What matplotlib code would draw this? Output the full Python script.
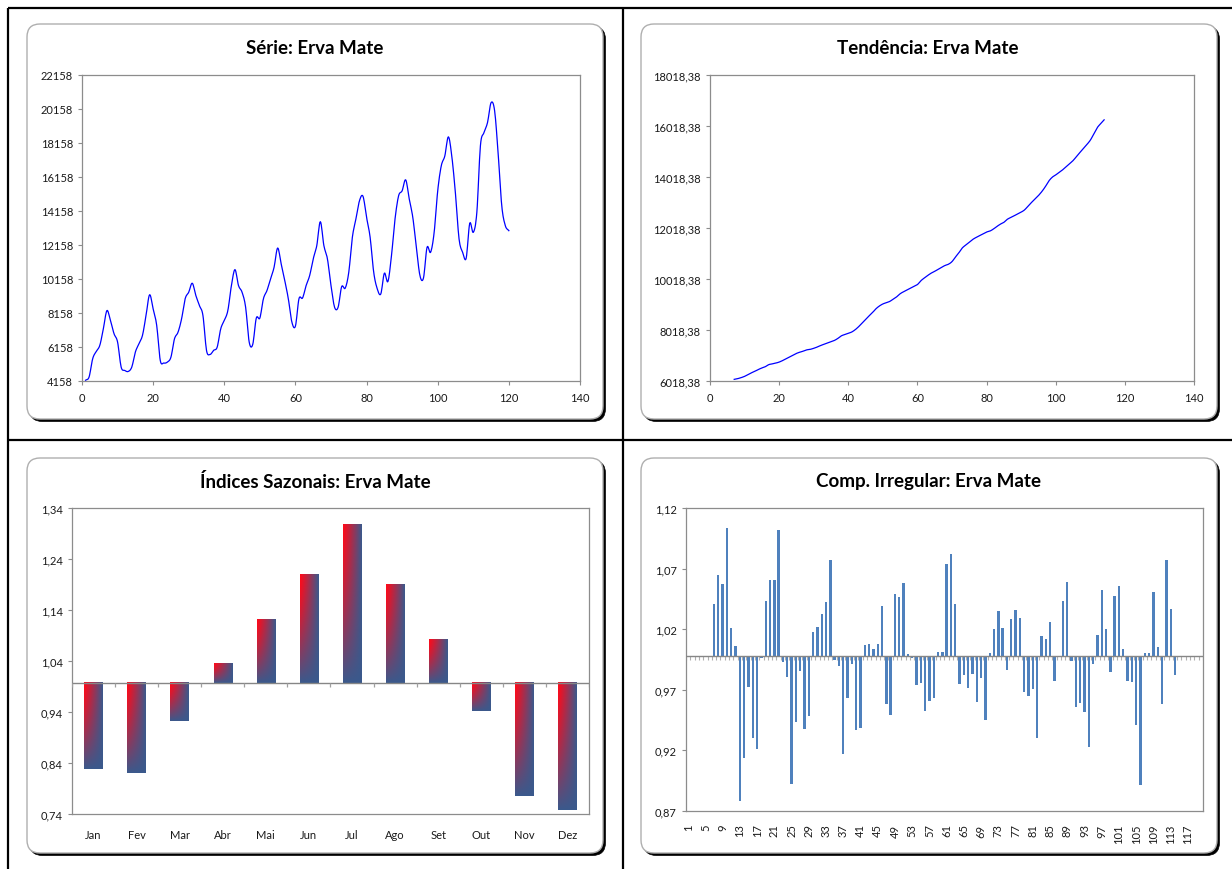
import numpy as np
import matplotlib
matplotlib.use('Agg')
import matplotlib.pyplot as plt
from matplotlib.patches import FancyBboxPatch
from matplotlib.ticker import FixedLocator, FuncFormatter

plt.rcParams['font.family'] = ['Lato', 'DejaVu Sans']

# ---------------- data ----------------
series = [4200, 4400, 5470, 5900, 6250, 7230, 8300, 7720, 6940, 6450, 4980, 4780,
          4720, 4980, 5860, 6350, 6840, 8010, 9230, 8400, 7430, 5370, 5215, 5270,
          5560, 6640, 7030, 7820, 9000, 9380, 9910, 9190, 8600, 8010, 5960, 5720,
          5960, 6150, 7230, 7720, 8300, 9770, 10710, 9770, 9380, 8500, 6450, 6310,
          7860, 7860, 9000, 9480, 10160, 10850, 11980, 11040, 10070, 9000, 7620, 7390,
          9000, 9040, 9770, 10360, 11340, 12120, 13530, 12120, 11340, 9770, 8500, 8500,
          9710, 9620, 10560, 12610, 13690, 14760, 15020, 13780, 12610, 10560, 9580, 9280,
          10500, 10010, 11530, 13690, 15050, 15350, 15990, 14860, 13780, 12020, 10360, 10220,
          12020, 11730, 12900, 15350, 16820, 17400, 18520, 17310, 15150, 12510, 11730, 11380,
          13430, 12900, 14080, 17990, 18770, 19360, 20530, 20050, 17500, 14470, 13300, 13000]

trend_start = 7
trend = [6083, 6110, 6150, 6200, 6270, 6340, 6400, 6470, 6530, 6580, 6660, 6690,
         6720, 6760, 6820, 6890, 6960, 7030, 7100, 7150, 7190, 7240, 7260, 7300,
         7350, 7410, 7460, 7510, 7560, 7610, 7690, 7790, 7840, 7890, 7940, 8030,
         8150, 8290, 8430, 8570, 8700, 8850, 8960, 9040, 9090, 9140, 9230, 9320,
         9440, 9520, 9590, 9660, 9730, 9800, 9950, 10060, 10160, 10250, 10320, 10400,
         10480, 10550, 10600, 10700, 10880, 11050, 11240, 11350, 11460, 11570, 11650, 11720,
         11790, 11860, 11900, 11980, 12080, 12170, 12240, 12360, 12430, 12500, 12570, 12640,
         12730, 12880, 13020, 13150, 13290, 13450, 13640, 13860, 14010, 14100, 14200, 14300,
         14420, 14540, 14660, 14820, 14980, 15130, 15290, 15460, 15700, 15950, 16110, 16260]

months = ['Jan', 'Fev', 'Mar', 'Abr', 'Mai', 'Jun', 'Jul', 'Ago', 'Set', 'Out', 'Nov', 'Dez']
seasonal = [0.831, 0.823, 0.924, 1.039, 1.124, 1.213, 1.310, 1.194, 1.086, 0.944, 0.777, 0.750]

irr_start = 7
irregular = [1.043, 1.067, 1.0595, 1.1058, 1.0231, 1.0085, 0.8804, 0.9159, 0.9746, 0.9325, 0.9234, 0.998,
             1.0457, 1.0623, 1.0631, 1.1042, 0.9948, 0.9829, 0.8947, 0.9457, 0.9879, 0.9399, 0.9507, 1.0198,
             1.0240, 1.0347, 1.0446, 1.0794, 0.997, 0.992, 0.9192, 0.9655, 0.9937, 0.9391, 0.9407, 1.0091,
             1.0099, 1.0058, 1.0099, 1.0413, 0.9606, 0.9515, 1.0513, 1.0488, 1.0604, 1.0016, 0.998, 0.9763,
             0.9779, 0.9548, 0.9631, 0.9655, 1.0033, 1.0033, 1.0761, 1.0843, 1.043, 0.9768, 0.9843, 0.9735,
             0.9851, 0.962, 0.9818, 0.9473, 1.0025, 1.0223, 1.0372, 1.0231, 0.9884, 1.0306, 1.038, 1.0314,
             0.9702, 0.9672, 0.9727, 0.9325, 1.0165, 1.014, 1.0281, 0.9793, 0.999, 1.0455, 1.0612, 0.9959,
             0.9578, 0.961, 0.954, 0.9247, 0.9934, 1.0174, 1.0546, 1.0223, 0.9868, 1.0496, 1.0579, 1.0058,
             0.9793, 0.9785, 0.9429, 0.8933, 1.0025, 1.0025, 1.0529, 1.0074, 0.9606, 1.0794, 1.0389, 0.9843]
n_categories = 120

titles = ['Série: Erva Mate', 'Tendência: Erva Mate',
          'Índices Sazonais: Erva Mate', 'Comp. Irregular: Erva Mate']


def smooth_line(x, y, steps=8):
    """Catmull-Rom rendering through the data points (like Excel's smoothed line)."""
    x = np.asarray(x, float)
    y = np.asarray(y, float)
    px = np.concatenate([[2 * x[0] - x[1]], x, [2 * x[-1] - x[-2]]])
    py = np.concatenate([[2 * y[0] - y[1]], y, [2 * y[-1] - y[-2]]])
    xs, ys = [x[0]], [y[0]]
    s = np.linspace(0, 1, steps + 1)[1:]
    for i in range(1, len(px) - 2):
        p0, p1, p2, p3 = py[i - 1], py[i], py[i + 1], py[i + 2]
        q0, q1, q2, q3 = px[i - 1], px[i], px[i + 1], px[i + 2]
        for (pp, out) in (((q0, q1, q2, q3), xs), ((p0, p1, p2, p3), ys)):
            a0, a1, a2, a3 = pp
            out.extend(0.5 * (2 * a1 + (-a0 + a2) * s + (2 * a0 - 5 * a1 + 4 * a2 - a3) * s ** 2
                              + (-a0 + 3 * a1 - 3 * a2 + a3) * s ** 3))
    return np.array(xs), np.array(ys)


# ---------------- figure ----------------
W, H = 1232, 870
fig = plt.figure(figsize=(W / 100, H / 100), dpi=100)
fig.patch.set_facecolor('white')

bg = fig.add_axes([0, 0, 1, 1], zorder=0)
bg.set_xlim(0, W)
bg.set_ylim(H, 0)
bg.axis('off')

# table frame lines
for (x0, y0, x1, y1) in [(8, 9, 8, H), (8, 9, W, 9), (623, 9, 623, H), (8, 441, W, 441)]:
    bg.plot([x0, x1], [y0, y1], color='black', lw=1.6, solid_capstyle='butt')

# chart boxes
boxes = [(27, 25), (641, 25), (27, 459), (641, 459)]
BW, BH = 576, 395
for (bx, by) in boxes:
    bg.add_patch(FancyBboxPatch((bx + 2.5, by + 2.5), BW, BH,
                                boxstyle='round,pad=0,rounding_size=13',
                                fc='black', ec='black', lw=0.5))
    bg.add_patch(FancyBboxPatch((bx, by), BW, BH,
                                boxstyle='round,pad=0,rounding_size=13',
                                fc='white', ec='#AFAFAF', lw=1.0))

title_pos = [(315, 48), (928, 48), (315, 482), (928, 482)]
for t, (tx, ty) in zip(titles, title_pos):
    bg.text(tx, ty, t, ha='center', va='center', fontsize=13.5, fontweight='bold', color='black')

SPINE = '#8C8C8C'
TXT = '#1A1A1A'


def px_axes(l, t, r, b):
    ax = fig.add_axes([l / W, 1 - b / H, (r - l) / W, (b - t) / H], zorder=2)
    for s in ax.spines.values():
        s.set_color(SPINE)
        s.set_linewidth(0.9)
    ax.tick_params(colors=SPINE, labelcolor=TXT, labelsize=8, length=3, width=0.8, direction='out')
    return ax


def comma(fmt):
    return FuncFormatter(lambda v, p: (fmt % v).replace('.', ','))


# ---- 1. Série ----
ax1 = px_axes(82, 76, 580, 382)
x1 = np.arange(1, len(series) + 1)
sx, sy = smooth_line(x1, series)
ax1.plot(sx, sy, color='#0000FF', lw=0.9)
ax1.set_xlim(0, 140)
ax1.set_ylim(4158, 22158)
ax1.xaxis.set_major_locator(FixedLocator(np.arange(0, 141, 20)))
ax1.yaxis.set_major_locator(FixedLocator(np.arange(4158, 22159, 2000)))
ax1.yaxis.set_major_formatter(comma('%.0f'))
ax1.tick_params(axis='x', pad=5)

# ---- 2. Tendência ----
ax2 = px_axes(710, 76, 1194, 382)
x2 = np.arange(trend_start, trend_start + len(trend))
tx2, ty2 = smooth_line(x2, trend)
ax2.plot(tx2, ty2, color='#0000FF', lw=0.9)
ax2.set_xlim(0, 140)
ax2.set_ylim(6018.38, 18018.38)
ax2.xaxis.set_major_locator(FixedLocator(np.arange(0, 141, 20)))
ax2.yaxis.set_major_locator(FixedLocator(np.arange(6018.38, 18019, 2000)))
ax2.yaxis.set_major_formatter(comma('%.2f'))
ax2.tick_params(axis='x', pad=5)

# ---- 3. Índices Sazonais ----
ax3 = px_axes(72, 509, 589, 815)
y3min, y3max = 0.7425, 1.3425
ax3.set_xlim(0.5, len(months) + 0.5)
ax3.set_ylim(y3min, y3max)
red = np.array([1.0, 0.04, 0.10])
blue = np.array([0.23, 0.35, 0.55])
M, N = 40, 120
u = np.linspace(0, 1, M)[None, :]
vv = np.linspace(0, 1, N)[:, None]
tgrad = 1 - (1 - u ** 1.1) * (1 - vv ** 1.4)
tgrad = np.clip(tgrad, 0, 1)
img = red[None, None, :] * (1 - tgrad[..., None]) + blue[None, None, :] * tgrad[..., None]
bw = 0.43
for i, val in enumerate(seasonal):
    xc = i + 1
    lo, hi = min(1.0, val), max(1.0, val)
    ax3.imshow(img, extent=(xc - bw / 2, xc + bw / 2, lo, hi), origin='upper',
               aspect='auto', interpolation='bilinear', zorder=2)
ax3.set_xlim(0.5, len(months) + 0.5)
ax3.set_ylim(y3min, y3max)
ax3.axhline(1.0, color='#868686', lw=1.0, zorder=3)
tl3 = 4 / 306 * (y3max - y3min)
ax3.vlines(np.arange(0.5, len(months) + 1), 1.0 - tl3, 1.0, color='#A0A0A0', lw=0.9, zorder=3)
ax3.set_xticks(np.arange(1, len(months) + 1))
ax3.set_xticklabels(months)
ax3.tick_params(axis='x', length=0, pad=11)
ax3.yaxis.set_major_locator(FixedLocator(np.arange(y3min, y3max + 0.001, 0.1)))
ax3.yaxis.set_major_formatter(comma('%.2f'))

# ---- 4. Comp. Irregular ----
ax4 = px_axes(686, 509, 1203, 812)
y4min, y4max = 0.8721, 1.1221
xi = np.arange(irr_start, irr_start + len(irregular))
vals = np.array(irregular)
ax4.bar(xi, vals - 1.0, bottom=1.0, width=0.55, color='#4F81BD', zorder=2)
ax4.set_xlim(0.5, n_categories + 0.5)
ax4.set_ylim(y4min, y4max)
ax4.axhline(1.0, color='#868686', lw=1.0, zorder=3)
tl4 = 4 / 303 * (y4max - y4min)
ax4.vlines(np.arange(0.5, n_categories + 1), 1.0 - tl4, 1.0, color='#B0B0B0', lw=0.8, zorder=1)
ax4.set_xticks(np.arange(1, n_categories + 1, 4))
ax4.set_xticklabels([str(k) for k in range(1, n_categories + 1, 4)], rotation=90)
ax4.tick_params(axis='x', length=0, pad=9)
ax4.yaxis.set_major_locator(FixedLocator(np.arange(y4min, y4max + 0.001, 0.05)))
ax4.yaxis.set_major_formatter(comma('%.2f'))

fig.savefig('out.png', dpi=100, facecolor='white')
